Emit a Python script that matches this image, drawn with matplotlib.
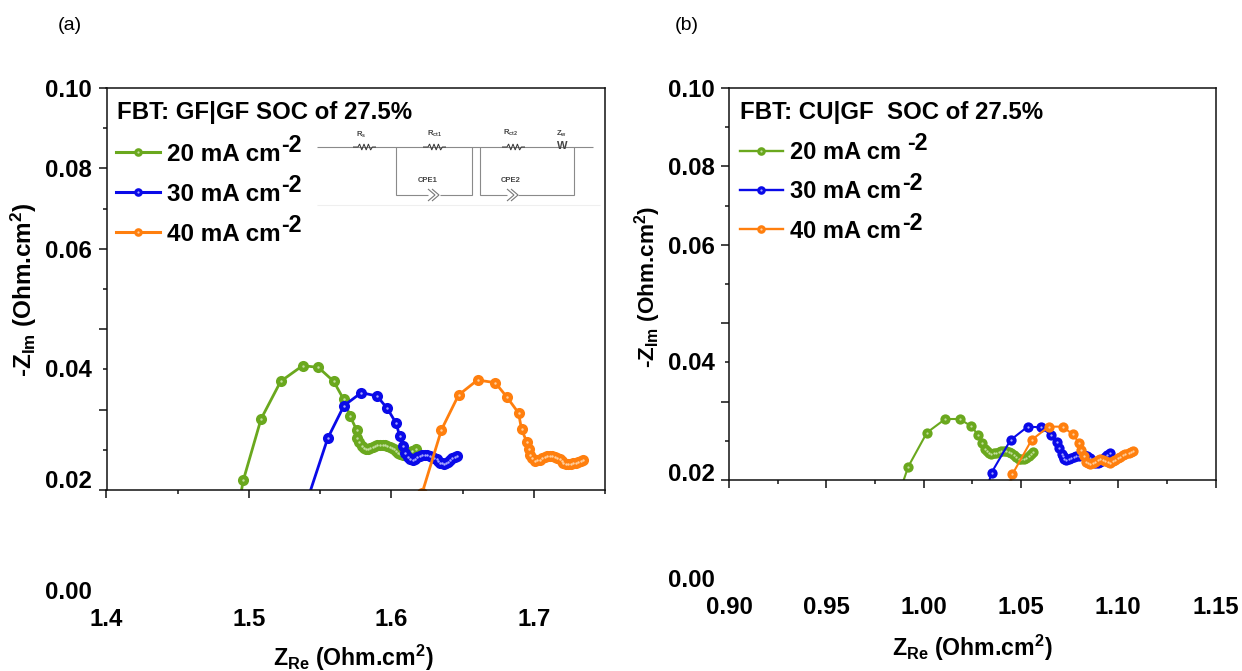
import matplotlib
matplotlib.use("Agg")
import matplotlib.pyplot as plt
from matplotlib.lines import Line2D
from matplotlib.legend_handler import HandlerTuple
from matplotlib.ticker import MultipleLocator
from matplotlib.transforms import ScaledTranslation

plt.rcParams['font.family'] = ['Liberation Sans', 'DejaVu Sans']
plt.rcParams['font.weight'] = 'bold'
plt.rcParams['mathtext.fontset'] = 'custom'
plt.rcParams['mathtext.bf'] = 'Liberation Sans:bold'
plt.rcParams['mathtext.rm'] = 'Liberation Sans:bold'
plt.rcParams['mathtext.default'] = 'bf'

# ---------- data: panel (a) ----------
a_20_x = [1.4937, 1.4961, 1.5085, 1.5223, 1.5377, 1.5487, 1.5595, 1.5665, 1.5711, 1.5756, 1.5761, 1.5775, 1.5791,
          1.5805, 1.5819, 1.5835, 1.5850, 1.5868, 1.5885, 1.5902, 1.5920, 1.5938, 1.5955, 1.5972, 1.5990, 1.6004,
          1.6018, 1.6033, 1.6048, 1.6063, 1.6079, 1.6098, 1.6119, 1.6145, 1.6170]
a_20_y = [-0.0021, 0.00248, 0.01766, 0.02703, 0.03093, 0.03051, 0.02703, 0.02255, 0.01832, 0.01492, 0.01285, 0.01190,
          0.01094, 0.01055, 0.01028, 0.01028, 0.01036, 0.01065, 0.01094, 0.01110, 0.01119, 0.01118, 0.01111, 0.01095,
          0.01078, 0.01050, 0.01020, 0.00975, 0.00928, 0.00895, 0.00862, 0.00890, 0.00928, 0.00975, 0.01020]
a_30_x = [1.5410, 1.5553, 1.5667, 1.5789, 1.5899, 1.5971, 1.6034, 1.6058, 1.6083, 1.6097, 1.6118, 1.6133, 1.6149,
          1.6165, 1.6182, 1.6200, 1.6217, 1.6235, 1.6252, 1.6270, 1.6287, 1.6302, 1.6317, 1.6329, 1.6341, 1.6355,
          1.6369, 1.6384, 1.6399, 1.6413, 1.6427, 1.6445, 1.6462]
a_30_y = [-0.0025, 0.01285, 0.02097, 0.02421, 0.02338, 0.02031, 0.01658, 0.01343, 0.01102, 0.00912, 0.00812, 0.00775,
          0.00746, 0.00775, 0.00812, 0.00840, 0.00862, 0.00868, 0.00870, 0.00852, 0.00829, 0.00795, 0.00763, 0.00720,
          0.00680, 0.00660, 0.00646, 0.00672, 0.00704, 0.00745, 0.00787, 0.00820, 0.00845]
a_40_x = [1.6217, 1.6352, 1.6472, 1.6605, 1.6729, 1.6811, 1.6893, 1.6914, 1.6951, 1.6965, 1.6972, 1.6990, 1.7007,
          1.7025, 1.7042, 1.7060, 1.7078, 1.7095, 1.7113, 1.7130, 1.7148, 1.7165, 1.7183, 1.7195, 1.7206, 1.7223,
          1.7241, 1.7258, 1.7276, 1.7294, 1.7311, 1.7328, 1.7346]
a_40_y = [-0.00067, 0.01500, 0.02363, 0.02736, 0.02670, 0.02313, 0.01915, 0.01509, 0.01194, 0.01011, 0.00870, 0.00790,
          0.00729, 0.00735, 0.00746, 0.00790, 0.00829, 0.00845, 0.00854, 0.00845, 0.00829, 0.00800, 0.00763, 0.00710,
          0.00663, 0.00650, 0.00646, 0.00652, 0.00663, 0.00683, 0.00704, 0.00725, 0.00746]

# ---------- data: panel (b) ----------
b_20_x = [0.9880, 0.9921, 1.0017, 1.0111, 1.0185, 1.0243, 1.0281, 1.0298, 1.0315, 1.0325, 1.0334, 1.0347, 1.0360,
          1.0372, 1.0385, 1.0398, 1.0411, 1.0424, 1.0437, 1.0450, 1.0463, 1.0475, 1.0488, 1.0501, 1.0514, 1.0527,
          1.0540, 1.0551, 1.0562]
b_20_y = [-0.0026, 0.00340, 0.01208, 0.01556, 0.01556, 0.01378, 0.01148, 0.00953, 0.00799, 0.00730, 0.00680, 0.00672,
          0.00680, 0.00700, 0.00723, 0.00740, 0.00748, 0.00740, 0.00723, 0.00685, 0.00638, 0.00585, 0.00536, 0.00525,
          0.00536, 0.00570, 0.00612, 0.00655, 0.00706]
b_30_x = [1.0329, 1.0349, 1.0447, 1.0535, 1.0603, 1.0656, 1.0686, 1.0698, 1.0711, 1.0717, 1.0723, 1.0734, 1.0745,
          1.0758, 1.0771, 1.0784, 1.0797, 1.0812, 1.0826, 1.0840, 1.0854, 1.0868, 1.0883, 1.0895, 1.0908, 1.0921,
          1.0934, 1.0945, 1.0956]
b_30_y = [-0.0017, 0.00187, 0.01021, 0.01361, 0.01344, 0.01148, 0.00961, 0.00808, 0.00663, 0.00600, 0.00536, 0.00520,
          0.00536, 0.00555, 0.00578, 0.00600, 0.00621, 0.00635, 0.00638, 0.00600, 0.00553, 0.00485, 0.00425, 0.00440,
          0.00468, 0.00530, 0.00595, 0.00640, 0.00680]
b_40_x = [1.0442, 1.0456, 1.0555, 1.0643, 1.0715, 1.0766, 1.0799, 1.0811, 1.0823, 1.0836, 1.0846, 1.0857, 1.0870,
          1.0883, 1.0895, 1.0908, 1.0921, 1.0934, 1.0947, 1.0960, 1.0972, 1.0985, 1.0998, 1.1011, 1.1024, 1.1037,
          1.1054, 1.1064, 1.1075]
b_40_y = [-0.00127, 0.00145, 0.01021, 0.01361, 0.01361, 0.01165, 0.00953, 0.00765, 0.00621, 0.00468, 0.00430, 0.00408,
          0.00435, 0.00468, 0.00500, 0.00527, 0.00510, 0.00493, 0.00465, 0.00442, 0.00475, 0.00510, 0.00550, 0.00595,
          0.00630, 0.00663, 0.00697, 0.00715, 0.00731]

y_tick_labels = ['0.00', '0.02', '0.04', '0.06', '0.08', '0.10']
a_x_ticks = [1.4, 1.5, 1.6, 1.7]
a_x_labels = ['1.4', '1.5', '1.6', '1.7']
b_x_ticks = [0.90, 0.95, 1.00, 1.05, 1.10, 1.15]
b_x_labels = ['0.90', '0.95', '1.00', '1.05', '1.10', '1.15']

series_names_a = ['20 mA cm', '30 mA cm', '40 mA cm']
series_names_b = ['20 mA cm', '30 mA cm', '40 mA cm']
colors = ['#6aa81e', '#0a0ae8', '#ff7f0e']
lights = ['#c4dfa0', '#a8a8ff', '#ffd0a0']

W, H = 1242, 671
fig = plt.figure(figsize=(W / 100, H / 100), dpi=100)


def make_axes(left, right, top, bottom):
    return fig.add_axes([left / W, 1 - bottom / H, (right - left) / W, (bottom - top) / H])


def draw_panel(ax, xs, ys, names, lw, ms, xlim, xticks, xlabels, xminor, label_shifts, title, title_xy,
               x_pad, xlab, ylab, xlab_xy, ylab_xy, ylab_size, leg_anchor, leg_size, sup_xy, sup_size):
    handles = []
    for x, y, c, l in zip(xs, ys, colors, lights):
        ax.plot(x, y, '-o', color=c, lw=lw, ms=ms, mew=0, solid_capstyle='butt')
        ax.plot(x, y, 'o', color=l, ms=ms * 0.22, mew=0)
        handles.append((Line2D([], [], color=c, lw=lw + 0.2, marker='o', ms=6.2, mew=0),
                        Line2D([], [], color=l, ls='none', marker='o', ms=1.6, mew=0)))
    ax.set_xlim(*xlim)
    ax.set_ylim(0, 0.10)
    ax.set_xticks(xticks, xlabels)
    ax.xaxis.set_minor_locator(MultipleLocator(xminor))
    ax.set_yticks([0, 0.02, 0.04, 0.06, 0.08, 0.10], y_tick_labels)
    ax.yaxis.set_minor_locator(MultipleLocator(0.01))
    ax.tick_params(axis='both', which='major', length=5.8, width=1.1, labelsize=17.3, color='#111111')
    ax.tick_params(axis='both', which='minor', length=2.6, width=1.1, color='#111111')
    ax.tick_params(axis='x', which='major', pad=x_pad)
    ax.tick_params(axis='y', which='major', pad=4.5)
    for s in ax.spines.values():
        s.set_linewidth(1.1)
        s.set_color('#111111')
    ax.figure.canvas.draw()
    for tick, shift in zip(ax.yaxis.get_major_ticks(), label_shifts):
        lab = tick.label1
        lab.set_transform(lab.get_transform() + ScaledTranslation(0, -shift / 100, fig.dpi_scale_trans))
    ax.text(title_xy[0], title_xy[1], title, transform=overlay.transData, fontsize=17.3, va='center', ha='left')
    ax.legend(handles, names, handler_map={tuple: HandlerTuple(ndivide=1, pad=0)}, numpoints=1,
              loc='upper left', bbox_to_anchor=leg_anchor, bbox_transform=overlay.transData,
              frameon=False, fontsize=leg_size, handlelength=1.81, handletextpad=0.29, labelspacing=0.69,
              borderpad=0, borderaxespad=0)
    for sx, sy in sup_xy:
        overlay.text(sx, sy, '-2', fontsize=sup_size, ha='left', va='center')
    ax.text(xlab_xy[0], xlab_xy[1], xlab, transform=overlay.transData, fontsize=16.7, ha='center', va='center')
    ax.text(ylab_xy[0], ylab_xy[1], ylab, transform=overlay.transData, fontsize=ylab_size, ha='center', va='center',
            rotation=90)


# pixel-space overlay for annotations and the circuit sketch
overlay = fig.add_axes([0, 0, 1, 1], zorder=5)
overlay.set_xlim(0, W)
overlay.set_ylim(H, 0)
overlay.axis('off')

ax_a = make_axes(106.5, 605, 88, 490)
ax_b = make_axes(729, 1215.5, 88, 480)

draw_panel(ax_a, [a_20_x, a_30_x, a_40_x], [a_20_y, a_30_y, a_40_y], series_names_a, 2.0, 8.0,
           (1.4, 1.75), a_x_ticks, a_x_labels, 0.05, [100, 69, 39, 0, 0, 0],
           'FBT: GF|GF SOC of 27.5%', (117, 113), 79,
           r'Z$_{Re}$ (Ohm.cm$^{2}$)', r'-Z$_{Im}$ (Ohm.cm$^{2}$)', (353, 658), (24, 290), 17.5, (116, 143), 17.5,
           [(281, 146), (281, 185), (281, 226)], 16.8)
draw_panel(ax_b, [b_20_x, b_30_x, b_40_x], [b_20_y, b_30_y, b_40_y], series_names_b, 1.5, 7.4,
           (0.90, 1.15), b_x_ticks, b_x_labels, 0.025, [98, 70, 38, 0, 0, 0],
           'FBT: CU|GF  SOC of 27.5%', (740, 113), 78,
           r'Z$_{Re}$ (Ohm.cm$^{2}$)', r'-Z$_{Im}$ (Ohm.cm$^{2}$)', (972, 648), (648, 287), 16.2, (740, 141), 17.0,
           [(907, 144), (902, 184), (902, 224)], 16.8)

overlay.text(58, 25, '(a)', fontsize=14, fontweight='normal', va='center')
overlay.text(675, 25, '(b)', fontsize=14, fontweight='normal', va='center')

# equivalent-circuit sketch
GR = '#8a8a8a'
DK = '#333333'


def seg(xp, yp, c=GR, lw=0.8):
    overlay.plot(xp, yp, color=c, lw=lw, solid_capstyle='butt', solid_joinstyle='miter')


def resistor(x0, y0):
    xp = [x0 - 10, x0 - 5, x0 - 3.4, x0 - 1.2, x0 + 1, x0 + 3.2, x0 + 5.4, x0 + 7.6, x0 + 9.4, x0 + 13]
    yp = [y0, y0, y0 - 3, y0 + 3, y0 - 3, y0 + 3, y0 - 3, y0 + 3, y0, y0]
    seg(xp, yp, c=DK, lw=0.7)


seg([317, 593], [146.7, 146.7])
seg([396, 396, 428], [147, 195, 195])
seg([440, 472, 472], [195, 195, 147])
seg([480, 480, 507], [147, 195, 195])
seg([518, 574, 574], [195, 195, 147])
seg([317, 600], [205, 205], c='#efefef', lw=0.8)
for cx in (428, 432):
    seg([cx, cx + 7, cx], [189, 195, 201], c='#777777', lw=0.8)
for cx in (507, 511):
    seg([cx, cx + 7, cx], [189, 195, 201], c='#777777', lw=0.8)
for rx in (363, 433, 512):
    resistor(rx, 147)
circuit_labels = [(361, 135, 'R$_{s}$'), (435, 134, 'R$_{ct1}$'), (511, 133, 'R$_{ct2}$'), (561, 134, 'Z$_{w}$'),
                  (428, 180, 'CPE1'), (511, 180, 'CPE2')]
for lx, ly, s in circuit_labels:
    overlay.text(lx, ly, s, fontsize=5.5, color='#444444', ha='center', va='center')
overlay.text(562, 146, 'W', fontsize=8, color='#444444', ha='center', va='center')

fig.savefig('out.png', dpi=100)
